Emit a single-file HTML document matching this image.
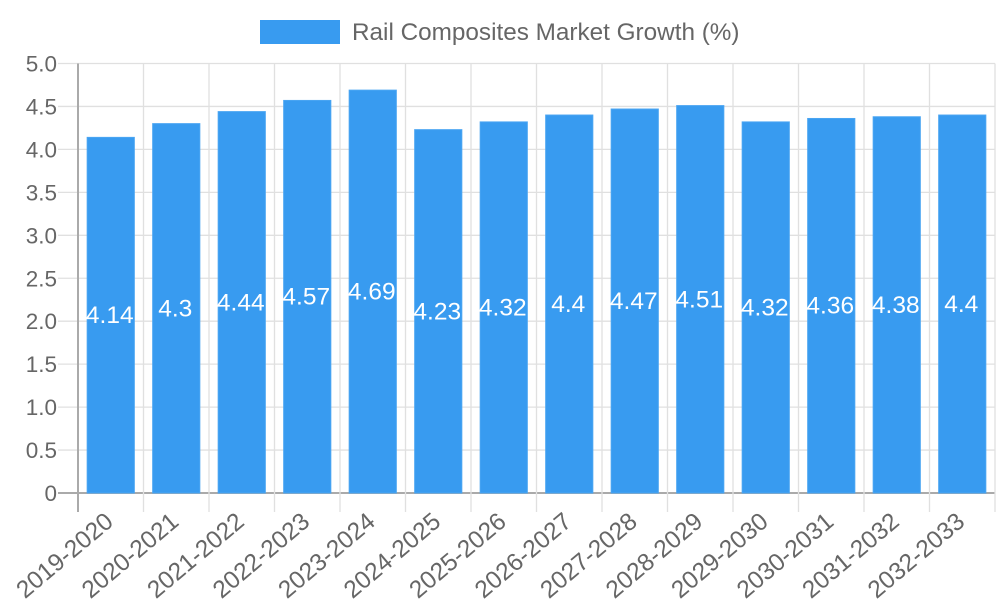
<!DOCTYPE html>
<html><head><meta charset="utf-8"><style>
html,body{margin:0;padding:0;background:#fff;}
svg{display:block;font-family:"Liberation Sans",sans-serif;}
</style></head><body>
<svg id="chart" width="1000" height="600">
  <g id="grid"></g>
  <g id="bars"></g>
  <g id="labels"></g>
  <g>
    <rect x="260" y="20" width="80" height="24" fill="#389bf0"></rect>
    <text x="352" y="40" font-size="24.3" fill="#666">Rail Composites Market Growth (%)</text>
  </g>
</svg>
<script>
const categories = ["2019-2020","2020-2021","2021-2022","2022-2023","2023-2024","2024-2025","2025-2026","2026-2027","2027-2028","2028-2029","2029-2030","2030-2031","2031-2032","2032-2033"];
const values = [4.14,4.3,4.44,4.57,4.69,4.23,4.32,4.4,4.47,4.51,4.32,4.36,4.38,4.4];
const valueLabels = ["4.14","4.3","4.44","4.57","4.69","4.23","4.32","4.4","4.47","4.51","4.32","4.36","4.38","4.4"];
const yTicks = [0,0.5,1,1.5,2,2.5,3,3.5,4,4.5,5];
const yTickLabels = ["0","0.5","1.0","1.5","2.0","2.5","3.0","3.5","4.0","4.5","5.0"];

const NS="http://www.w3.org/2000/svg";
const L=78,R=995,T=63.5,B=493,yMax=5;
const cw=(R-L)/categories.length;
const y=v=>B-(v/yMax)*(B-T);
const xc=i=>L+cw*(i+0.5);
function mk(tag,attrs,parent){const e=document.createElementNS(NS,tag);for(const k in attrs)e.setAttribute(k,attrs[k]);parent.appendChild(e);return e;}
const grid=document.getElementById('grid'),bars=document.getElementById('bars'),labels=document.getElementById('labels');
yTicks.forEach((t,i)=>{
  const l=mk('line',{x1:58,x2:R,y1:y(t),y2:y(t),stroke:i==0?'#aaa':'#e0e0e0','stroke-width':i==0?2:1.3},grid);
  
  
  const tx=mk('text',{x:57,y:y(t)+8,'text-anchor':'end','font-size':22.5,fill:'#666'},grid);
  tx.textContent=yTickLabels[i];
  
  
});
for(let i=0;i<=categories.length;i++){
  const x=L+cw*i;
  const l=mk('line',{x1:x,x2:x,y1:T,y2:512,stroke:i==0?'#aaa':'#e0e0e0','stroke-width':i==0?2:1.3},grid);
  
  
}
categories.forEach((c,i)=>{
  const bw=cw*0.72;
  const r=mk('rect',{x:xc(i)-bw/2,y:y(values[i]),width:bw,height:B-y(values[i]),fill:'#389bf0',stroke:'#4aa5f2','stroke-width':1},bars);
  
  
  const vt=mk('text',{x:xc(i)-1,y:(y(values[i])+B)/2+8,'text-anchor':'middle','font-size':24.5,fill:'#fff'},labels);
  vt.textContent=valueLabels[i];
  
  
  const xt=mk('text',{'text-anchor':'end','font-size':24.5,fill:'#666',transform:`translate(${xc(i)+4},${524}) rotate(-40)`},labels);
  xt.textContent=c;
  
  
});
</script>
</body></html>
